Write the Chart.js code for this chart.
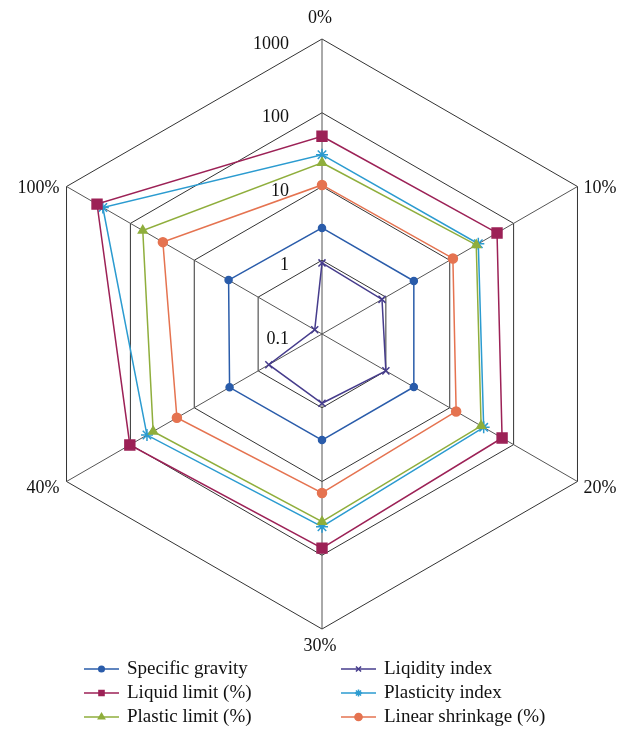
<!DOCTYPE html>
<html>
<head>
<meta charset="utf-8">
<script src="https://cdn.jsdelivr.net/npm/chart.js@4.4.1/dist/chart.umd.min.js"></script>
<style>
  html, body { margin: 0; padding: 0; background: #fff; }
  #wrap { width: 630px; height: 735px; position: relative; }
</style>
</head>
<body>
<div id="wrap"><canvas id="radar" width="630" height="735"></canvas></div>
<script>
// moisture content steps (spokes, clockwise from top)
const categories = ['0%', '10%', '20%', '30%', '40%', '100%'];
const ringLabels = ['0.1', '1', '10', '100', '1000'];
const ringValues = [0.1, 1, 10, 100, 1000];

const specificGravity = [2.74, 2.74, 2.74, 2.74, 2.8, 2.9];
const liquidLimit = [48, 55, 66, 80, 102, 333];
const plasticLimit = [21, 26, 31, 35, 44, 64];
const liquidityIndex = [0.92, 0.87, 1.0, 0.87, 0.68, 0.13];
const plasticityIndex = [27, 28, 34, 41, 55, 270];
const linearShrinkage = [10.5, 11.2, 12.6, 14.3, 18.7, 31];

const serif = '"Liberation Serif", "Times New Roman", serif';

function series(label, values, color, style, radius) {
    return {
        label: label,
        data: values.map(v => Math.log10(v)),
        borderColor: color,
        backgroundColor: color,
        pointBackgroundColor: color,
        pointBorderColor: color,
        pointStyle: style,
        pointRadius: radius,
        pointBorderWidth: 1.5,
        borderWidth: 1.5,
        fill: false,
    };
}

const datasets = [
    series('Specific gravity', specificGravity, '#2a5caa', 'circle', 3.5),
    series('Liquid limit (%)', liquidLimit, '#9c2156', 'rect', 7),
    series('Plastic limit (%)', plasticLimit, '#8fae3c', 'triangle', 5),
    series('Liqidity index', liquidityIndex, '#463c8c', 'crossRot', 5),
    series('Plasticity index', plasticityIndex, '#2b9bd0', 'star', 6),
    series('Linear shrinkage (%)', linearShrinkage, '#e57350', 'circle', 4.5),
];

// spoke labels, ring labels and a two-column legend
const textPlugin = {
    id: 'radarText',
    afterDraw(chart) {
        const ctx = chart.ctx;
        const r = chart.scales.r;
        ctx.save();
        ctx.fillStyle = '#111';
        ctx.textBaseline = 'middle';

        ctx.font = '18px ' + serif;
        categories.forEach((lab, i) => {
            const p = r.getPointPosition(i, r.drawingArea);
            const a = r.getIndexAngle(i);
            const sx = Math.sin(a), sy = -Math.cos(a);
            if (Math.abs(sx) < 0.1) {
                ctx.textAlign = 'center';
                ctx.fillText(lab, p.x - 2, p.y + (sy < 0 ? -21 : 17));
            } else {
                ctx.textAlign = sx > 0 ? 'left' : 'right';
                ctx.fillText(lab, p.x + (sx > 0 ? 6 : -7), p.y + (sy > 0 ? 7 : 2));
            }
        });

        ctx.font = '18px ' + serif;
        ctx.textAlign = 'right';
        ringValues.forEach((v, i) => {
            const d = r.getDistanceFromCenterForValue(Math.log10(v));
            ctx.fillText(ringLabels[i], r.xCenter - 33, r.yCenter - d + 5);
        });

        // legend
        ctx.font = '19px ' + serif;
        ctx.textAlign = 'left';
        const cols = [84, 341];
        const rows = [669, 693, 717];
        chart.data.datasets.forEach((ds, i) => {
            const x = cols[Math.floor(i / 3)];
            const y = rows[i % 3];
            ctx.strokeStyle = ds.borderColor;
            ctx.fillStyle = ds.borderColor;
            ctx.lineWidth = 1.5;
            ctx.beginPath();
            ctx.moveTo(x, y);
            ctx.lineTo(x + 35, y);
            ctx.stroke();
            Chart.helpers.drawPoint(ctx, {
                pointStyle: ds.pointStyle,
                radius: Math.min(ds.pointRadius, 4.5) * 0.8,
                rotation: 0,
                borderWidth: 1.2,
            }, x + 17.5, y);
            ctx.fillStyle = '#111';
            ctx.fillText(ds.label, x + 43, y);
        });
        ctx.restore();
    }
};

new Chart(document.getElementById('radar'), {
    type: 'radar',
    data: { labels: categories, datasets: datasets },
    options: {
        responsive: false,
        animation: false,
        devicePixelRatio: 1,
        layout: { padding: { left: 27, right: 13, top: 39, bottom: 106 } },
        elements: { line: { tension: 0 } },
        plugins: {
            legend: { display: false },
            tooltip: { enabled: false },
        },
        scales: {
            r: {
                min: -1,
                max: 3,
                ticks: { display: false, stepSize: 1 },
                grid: { color: '#333', lineWidth: 1 },
                angleLines: { color: '#555', lineWidth: 1 },
                pointLabels: { display: false },
            },
        },
    },
    plugins: [textPlugin],
});
</script>
</body>
</html>
